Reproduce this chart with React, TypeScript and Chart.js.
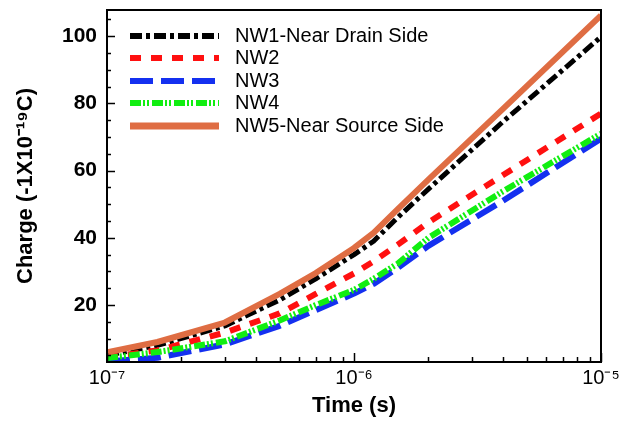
import React, { useEffect, useRef } from 'react';
import { Chart, registerables } from 'chart.js';

Chart.register(...registerables);

// ---- data ----
const TIMES = [1e-7, 1.6e-7, 3e-7, 5e-7, 7e-7, 1e-6, 1.2e-6, 1.5e-6, 2e-6, 4e-6, 1e-5];
const NW1 = [5.0, 8.0, 13.8, 21.5, 27.8, 35.0, 39.0, 46.0, 54.5, 74.5, 99.8];
const NW2 = [4.5, 6.5, 11.8, 17.5, 23.3, 29.4, 33.0, 37.9, 44.6, 58.6, 77.0];
const NW3 = [3.2, 4.3, 8.3, 13.8, 18.5, 23.4, 26.3, 31.0, 37.6, 51.0, 69.5];
const NW4 = [4.2, 6.0, 9.2, 15.4, 20.0, 24.5, 27.8, 32.3, 40.0, 53.8, 71.0];
const NW5 = [5.9, 9.0, 14.8, 23.3, 29.5, 37.0, 41.5, 48.5, 57.3, 78.3, 106.2];

const SERIES_LABELS = ['NW1-Near Drain Side', 'NW2', 'NW3', 'NW4', 'NW5-Near Source Side'];
const X_TICK_VALUES = [1e-7, 1e-6, 1e-5];
const Y_TICK_VALUES = [20, 40, 60, 80, 100];
const X_TITLE = 'Time (s)';
const Y_TITLE = 'Charge (-1X10\u207B\u00B9\u2079C)';

// ---- styles ----
const FONT = "'Liberation Sans', Arial, Helvetica, sans-serif";
const COLORS = ['#000000', '#ff1010', '#1430f0', '#11ee11', '#df6d43'];
const DASHES = [[12, 4, 4, 4], [11, 10], [23, 8], [11, 2, 2, 2, 2, 3], []];
const WIDTHS = [5, 6, 6, 6, 6];
const ORDERS = [4, 3, 2, 1, 0];

const SUP: Record<string, string> = {
  '-': '\u207B', '0': '\u2070', '1': '\u00B9', '2': '\u00B2', '3': '\u00B3',
  '4': '\u2074', '5': '\u2075', '6': '\u2076', '7': '\u2077', '8': '\u2078', '9': '\u2079',
};
const powLabel = (v: number) =>
  '10' + String(Math.round(Math.log10(v))).split('').map((c) => SUP[c] || c).join('');

const framePlugin = {
  id: 'frameAndLegend',
  afterDatasetsDraw(chart: any) {
    const { ctx, chartArea: a, scales } = chart;
    const xs = scales.x;
    const ys = scales.y;
    ctx.save();
    ctx.strokeStyle = '#000';
    ctx.lineWidth = 1.5;
    ctx.setLineDash([]);
    // y ticks (inward)
    for (let v = 5; v <= 105; v += 5) {
      const py = Math.round(ys.getPixelForValue(v)) + 0.5;
      if (py < a.top || py > a.bottom) continue;
      const len = v % 20 === 0 ? 8 : 4;
      ctx.beginPath();
      ctx.moveTo(a.left, py);
      ctx.lineTo(a.left + len, py);
      ctx.stroke();
    }
    // x ticks (inward)
    for (let d = -7; d <= -5; d++) {
      for (let m = 1; m <= 9; m++) {
        const v = m * Math.pow(10, d);
        if (v > 1.0001e-5) break;
        const px = Math.round(xs.getPixelForValue(v)) + 0.5;
        const len = m === 1 ? 9 : 5;
        ctx.beginPath();
        ctx.moveTo(px, a.bottom);
        ctx.lineTo(px, a.bottom - len);
        ctx.stroke();
      }
    }
    // frame
    ctx.lineWidth = 2;
    ctx.strokeRect(a.left, a.top, a.right - a.left, a.bottom - a.top);

    // legend
    const rowY = [26, 48, 71, 93, 116];
    const x0 = a.left + 23;
    const x1 = a.left + 112;
    ctx.font = `20px ${FONT}`;
    ctx.textBaseline = 'middle';
    ctx.textAlign = 'left';
    ctx.fillStyle = '#000';
    SERIES_LABELS.forEach((lbl, i) => {
      const y = a.top + rowY[i];
      ctx.save();
      ctx.strokeStyle = COLORS[i];
      ctx.lineWidth = i === 4 ? 7 : 6;
      ctx.lineCap = 'butt';
      ctx.setLineDash(DASHES[i]);
      ctx.beginPath();
      ctx.moveTo(x0, y);
      ctx.lineTo(x1, y);
      ctx.stroke();
      ctx.restore();
      ctx.fillText(lbl, a.left + 128, y);
    });
    ctx.restore();
  },
};

export default function App() {
  const ref = useRef<HTMLCanvasElement>(null);
  useEffect(() => {
    const datasets = [NW1, NW2, NW3, NW4, NW5].map((vals, i) => ({
      label: SERIES_LABELS[i],
      data: TIMES.map((t, j) => ({ x: t, y: vals[j] })),
      borderColor: COLORS[i],
      backgroundColor: COLORS[i],
      borderWidth: WIDTHS[i],
      borderDash: DASHES[i],
      borderCapStyle: 'butt' as const,
      borderJoinStyle: 'round' as const,
      pointRadius: 0,
      tension: 0,
      fill: false,
      order: ORDERS[i],
    }));
    const chart = new Chart(ref.current!, {
      type: 'line',
      data: { datasets },
      plugins: [framePlugin],
      options: {
        animation: false,
        responsive: false,
        events: [],
        layout: { padding: { left: 0, top: 10, right: 29, bottom: 0 } },
        plugins: { legend: { display: false }, tooltip: { enabled: false } },
        scales: {
          x: {
            type: 'logarithmic',
            min: 1e-7,
            max: 1e-5,
            grid: { display: false, drawTicks: false },
            border: { display: false },
            afterBuildTicks: (s: any) => {
              s.ticks = X_TICK_VALUES.map((value) => ({ value }));
            },
            afterFit: (s: any) => {
              s.height = 59;
              s.paddingLeft = 0;
              s.paddingRight = 0;
            },
            ticks: {
              autoSkip: false,
              maxRotation: 0,
              padding: 4,
              color: '#000',
              font: { family: FONT, size: 20 },
              callback: (v: any) => powLabel(Number(v)),
            },
            title: {
              display: true,
              text: X_TITLE,
              color: '#000',
              font: { family: FONT, size: 22, weight: 'bold' },
              padding: { top: 0, bottom: 2 },
            },
          },
          y: {
            type: 'linear',
            min: 3.05,
            max: 107.8,
            grid: { display: false, drawTicks: false },
            border: { display: false },
            afterBuildTicks: (s: any) => {
              s.ticks = Y_TICK_VALUES.map((value) => ({ value }));
            },
            afterFit: (s: any) => {
              s.width = 107;
              s.paddingTop = 0;
              s.paddingBottom = 0;
            },
            ticks: {
              padding: 10,
              color: '#000',
              font: { family: FONT, size: 21, weight: 'bold' },
            },
            title: {
              display: true,
              text: Y_TITLE,
              color: '#000',
              font: { family: FONT, size: 22, weight: 'bold' },
              padding: { top: 13, bottom: 0 },
            },
          },
        },
      } as any,
    });
    return () => chart.destroy();
  }, []);
  return (
    <div style={{ position: 'absolute', left: 0, top: 0, width: 630, height: 421, background: '#fff' }}>
      <canvas ref={ref} width={630} height={421} style={{ display: 'block' }} />
    </div>
  );
}
